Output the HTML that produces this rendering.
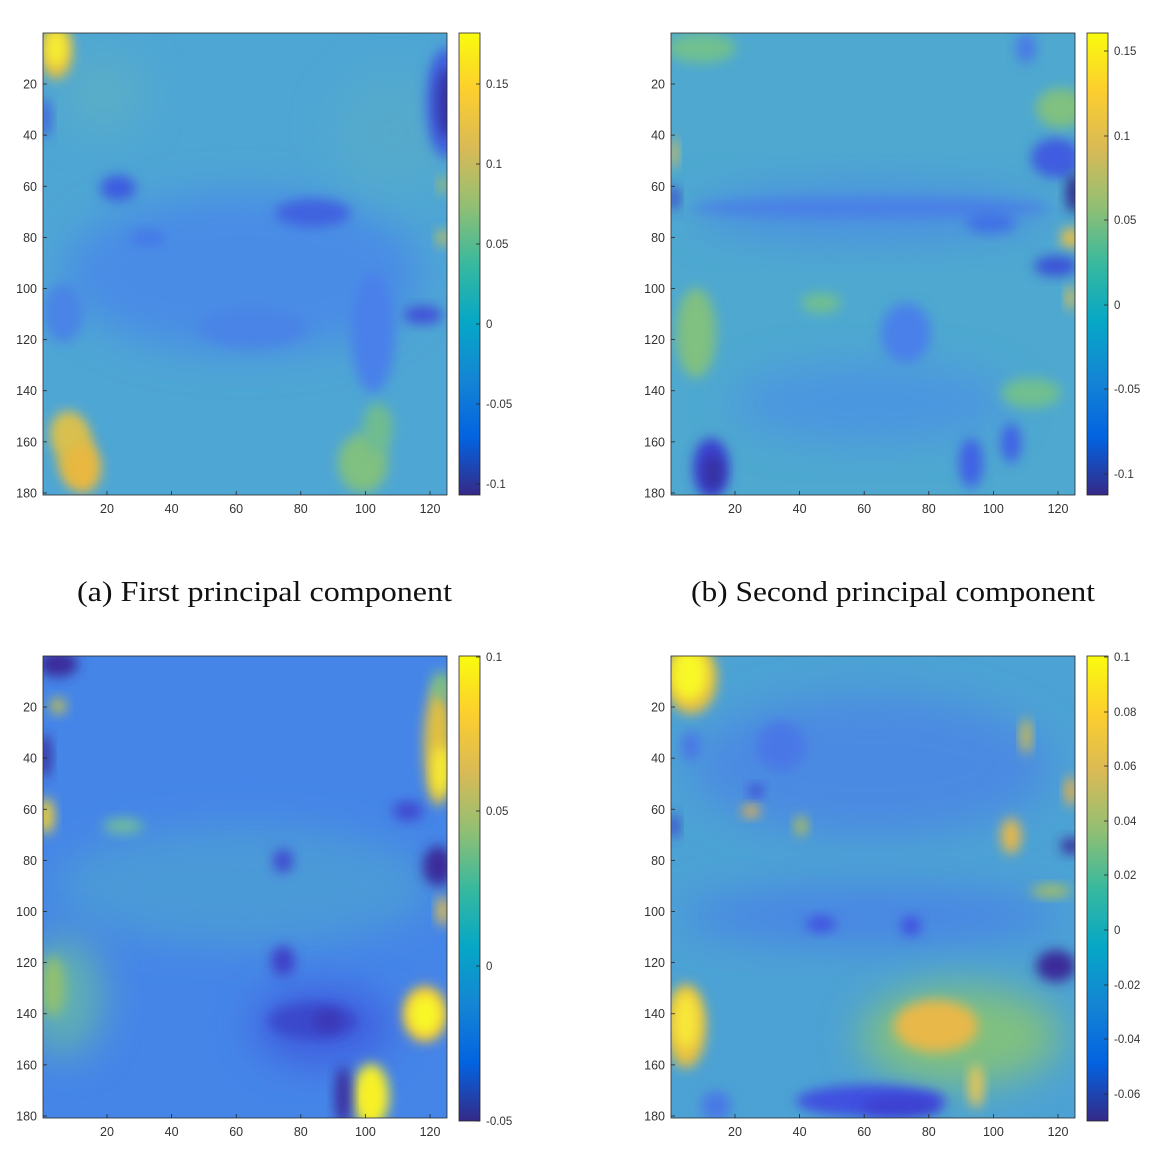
<!DOCTYPE html>
<html><head><meta charset="utf-8"><style>
body{margin:0;background:#fff;width:1164px;height:1166px;overflow:hidden}
svg text{font-family:"Liberation Sans",sans-serif;font-size:12.5px;fill:#333}
.cap{font-family:"Liberation Serif",serif;font-size:29px;fill:#111}
</style></head><body>
<svg id="s" width="1164" height="1166" xmlns="http://www.w3.org/2000/svg">
<defs>
<linearGradient id="par" x1="0" y1="1" x2="0" y2="0">
<stop offset="0" stop-color="#352a87"/><stop offset="0.125" stop-color="#0363e1"/>
<stop offset="0.25" stop-color="#1485d4"/><stop offset="0.375" stop-color="#06a7c6"/>
<stop offset="0.5" stop-color="#38b99e"/><stop offset="0.625" stop-color="#92bf73"/>
<stop offset="0.75" stop-color="#d9ba56"/><stop offset="0.875" stop-color="#fcce2e"/>
<stop offset="1" stop-color="#f9fb0e"/></linearGradient>
<filter id="b" x="-50%" y="-50%" width="200%" height="200%"><feGaussianBlur stdDeviation="6"/></filter>
<filter id="b2" x="-50%" y="-50%" width="200%" height="200%"><feGaussianBlur stdDeviation="20"/></filter>
<clipPath id="c"><rect x="0" y="0" width="404" height="462"/></clipPath>
</defs>
<text class="cap" x="77" y="601" textLength="375" lengthAdjust="spacingAndGlyphs">(a) First principal component</text>
<text class="cap" x="691" y="601" textLength="404" lengthAdjust="spacingAndGlyphs">(b) Second principal component</text>
</svg>
<script>
const S=document.getElementById('s');let h='';
const panels=[
{x:43,y:33,base:'#4ea6d4',soft:[[200,240,180,80,'#4a8ce6'],[60,60,40,40,'#5aaec8'],[350,100,60,60,'#55aacc']],f:[
[403,70,20,55,'#3f60e0'],[403,70,9,35,'#3530a0'],[13,18,16,28,'#e8c040'],[13,15,10,18,'#f5f030'],[2,85,6,20,'#3f60e0'],
[75,155,18,13,'#3c5ce0'],[270,180,38,14,'#3f62e0'],[105,205,18,8,'#4578e8'],[380,282,20,9,'#3f50d8'],[330,300,22,60,'#4a80ea'],
[210,295,55,20,'#4a84e6'],[20,280,20,30,'#4a84e6'],[32,420,18,32,'#d8bc48'],[25,400,18,22,'#d8c050'],[40,435,18,25,'#e8b840'],[320,430,25,30,'#80c080'],
[335,395,15,25,'#70bc90'],[400,205,6,8,'#c8c050'],[400,152,5,8,'#a8c060']]},
{x:671,y:33,base:'#4ea8d0',soft:[[200,180,180,30,'#4c92e0'],[200,370,140,40,'#4c96e0']],f:[
[30,15,35,15,'#70c090'],[40,435,18,30,'#3a40d0'],[42,440,10,18,'#3530a0'],[200,175,180,10,'#4a80e6'],[385,125,25,20,'#3f5ce0'],
[403,160,8,20,'#302a90'],[400,205,10,10,'#f0c040'],[385,233,22,10,'#3a50d8'],[320,190,25,10,'#4070e6'],[390,75,25,20,'#80c080'],
[355,15,10,15,'#4a78e6'],[25,300,20,45,'#80c080'],[235,300,25,30,'#4a80ea'],[340,410,10,20,'#4060e6'],[300,430,12,25,'#4060e6'],
[360,360,30,15,'#70c090'],[400,265,5,12,'#e0c050'],[3,120,4,15,'#e0c050'],[3,165,5,12,'#3a40c8'],[150,270,20,10,'#70c090']]},
{x:43,y:656,base:'#4585e8',soft:[[200,230,190,60,'#4c9ad8'],[20,340,40,60,'#60b0b0'],[280,370,70,40,'#3f60e0']],f:[
[15,8,20,13,'#3a2a9a'],[15,50,8,8,'#c0c050'],[2,100,6,22,'#3a2a9a'],[3,160,8,18,'#f0d030'],[395,90,14,60,'#e0c040'],
[398,115,8,25,'#f8f030'],[398,30,10,15,'#80c080'],[395,210,15,20,'#3a2a9a'],[365,155,15,10,'#3f48d0'],[400,255,6,15,'#f0c040'],
[382,358,22,28,'#f0c040'],[382,358,16,20,'#f8f828'],[328,440,18,32,'#f8f028'],[300,440,8,30,'#3a2a9a'],[240,305,12,15,'#3f40c8'],
[240,205,10,12,'#3f48d0'],[270,365,45,18,'#3a48cc'],[285,365,15,12,'#3a38b8'],[10,330,12,30,'#90c070'],[80,170,20,8,'#70bca0']]},
{x:671,y:656,base:'#4ca2d4',soft:[[200,110,180,70,'#4c8ae2'],[200,260,190,30,'#4a86e4'],[290,380,100,50,'#80c080']],f:[
[20,22,26,36,'#e8c040'],[18,18,18,26,'#f8f828'],[15,370,20,42,'#e8c040'],[15,365,12,28,'#f8e838'],[265,370,42,26,'#e8b848'],
[385,310,20,16,'#3a2a9a'],[200,445,75,16,'#4050e0'],[230,450,40,10,'#3c40d0'],[305,430,7,22,'#f0c850'],[340,180,10,18,'#e8b848'],
[80,155,9,6,'#f0b040'],[85,135,7,6,'#3c40d0'],[355,80,5,18,'#e0c040'],[400,135,6,15,'#f0b040'],[380,235,20,6,'#a8c060'],
[400,190,10,8,'#3a2a9a'],[110,90,25,25,'#4a78e6'],[20,90,10,15,'#4a78e6'],[150,268,15,8,'#3f50e0'],[240,270,10,10,'#3f50e0'],
[3,170,5,12,'#3a40c8'],[45,450,15,15,'#4a78e6'],[130,170,6,10,'#b8c050']]}
];
const cbs=[{y0:33,y1:495,t:[[0.15,84],[0.1,164],[0.05,244],[0,324],[-0.05,404],[-0.1,484]]},
{y0:33,y1:495,t:[[0.15,51],[0.1,136],[0.05,220],[0,305],[-0.05,389],[-0.1,474]]},
{y0:656,y1:1121,t:[[0.1,657],[0.05,811],[0,966],[-0.05,1121]]},
{y0:656,y1:1121,t:[[0.1,657],[0.08,712],[0.06,766],[0.04,821],[0.02,875],[0,930],[-0.02,985],[-0.04,1039],[-0.06,1094]]}];
panels.forEach((p,i)=>{
 h+=`<g transform="translate(${p.x},${p.y})"><g clip-path="url(#c)"><rect width="404" height="462" fill="${p.base}"/>`;
 p.soft.forEach(e=>h+=`<ellipse cx="${e[0]}" cy="${e[1]}" rx="${e[2]}" ry="${e[3]}" fill="${e[4]}" filter="url(#b2)"/>`);
 p.f.forEach(e=>h+=`<ellipse cx="${e[0]}" cy="${e[1]}" rx="${e[2]}" ry="${e[3]}" fill="${e[4]}" filter="url(#b)"/>`);
 h+=`</g><rect x="0" y="0" width="404" height="462" fill="none" stroke="#262626" stroke-width="0.8"/>`;
 for(let v=20;v<=180;v+=20){const ry=v*2.556-0.1;
   h+=`<line x1="0" x2="4" y1="${ry}" y2="${ry}" stroke="#262626" stroke-width="0.8"/><text x="-6" y="${ry+4.5}" text-anchor="end">${v}</text>`;}
 for(let v=20;v<=120;v+=20){const rx=v*3.23-0.6;
   h+=`<line x1="${rx}" x2="${rx}" y1="462" y2="458" stroke="#262626" stroke-width="0.8"/><text x="${rx}" y="480" text-anchor="middle">${v}</text>`;}
 h+='</g>';
 const cx=p.x+416,c=cbs[i];
 h+=`<rect x="${cx}" y="${c.y0}" width="21" height="${c.y1-c.y0}" fill="url(#par)" stroke="#262626" stroke-width="0.8"/>`;
 c.t.forEach(t=>{h+=`<line x1="${cx+21}" x2="${cx+17}" y1="${t[1]}" y2="${t[1]}" stroke="#262626" stroke-width="0.8"/><text x="${cx+27}" y="${t[1]+4}" style="font-size:11.5px">${t[0]}</text>`;});
});
S.insertAdjacentHTML('beforeend',h);
</script>
</body></html>
